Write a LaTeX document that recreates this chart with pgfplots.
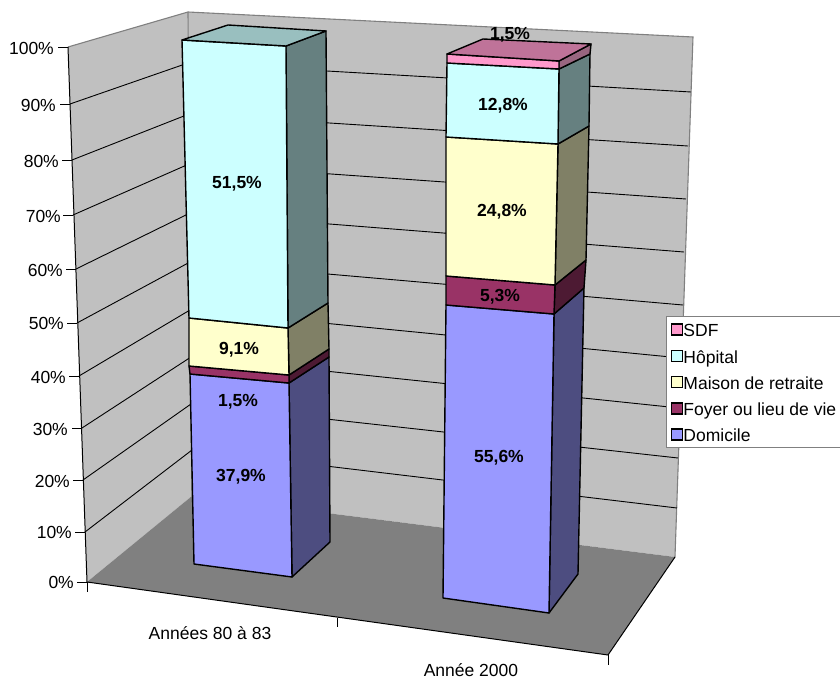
\documentclass[border=0pt]{standalone}
\usepackage{pgfplots}
\pgfplotsset{compat=1.18}
\usepackage{fontspec}
\setmainfont{Liberation Sans}
\definecolor{wall}{HTML}{C0C0C0}
\definecolor{floorc}{HTML}{808080}
\definecolor{blueF}{HTML}{9999FF}\definecolor{blueS}{HTML}{4D4D80}
\definecolor{marF}{HTML}{993366}\definecolor{marS}{HTML}{4D1A33}
\definecolor{yelF}{HTML}{FFFFCC}\definecolor{yelS}{HTML}{808066}
\definecolor{cyaF}{HTML}{CCFFFF}\definecolor{cyaS}{HTML}{668080}\definecolor{cyaT}{HTML}{99BFBF}
\definecolor{pinF}{HTML}{FF99CC}\definecolor{pinS}{HTML}{996680}\definecolor{pinT}{HTML}{BF7399}
\newcommand{\fs}{\fontsize{17.5bp}{20bp}\selectfont}
\newcommand{\poly}[2]{\addplot[fill=#1,draw=black,line width=1.4bp,line join=round,forget plot] coordinates {#2} -- cycle;}
\newcommand{\gl}[1]{\addplot[black,line width=0.9bp,forget plot] coordinates {#1};}
\newcommand{\val}[2]{\node[font=\fs\bfseries,inner sep=0pt] at (axis cs:#1) {#2};}
\begin{document}
\begin{tikzpicture}
\useasboundingbox (0,0) rectangle (840bp,679bp);
\begin{axis}[
  at={(0,0)},anchor=south west,
  width=840bp,height=679bp,scale only axis,
  xmin=0,xmax=840,ymin=0,ymax=679,y dir=reverse,
  hide axis,
  legend image code/.code={\draw[#1,line width=1.4bp] (0bp,-5.5bp) rectangle (11bp,5.5bp);},
  legend cell align=left,
  legend style={at={(axis cs:666,316)},anchor=north west,draw=floorc,line width=1.1bp,fill=white,
    font=\fs,inner xsep=4.5bp,inner ysep=4bp,row sep=8.25bp,
    nodes={inner sep=0pt,text height=16.2bp,text depth=1.8bp},
    /tikz/every even column/.append style={column sep=8.5bp}},
]
% walls and floor
\addplot[fill=wall,draw=none,forget plot] coordinates {(68,47)(188,12)(192,496)(87,582)} -- cycle;
\addplot[fill=wall,draw=none,forget plot] coordinates {(188,12)(693,37)(675,557)(192,496)} -- cycle;
\addplot[fill=floorc,draw=none,forget plot] coordinates {(87,582)(192,496)(675,557)(608,655)} -- cycle;
\addplot[floorc,line width=1.1bp,forget plot] coordinates {(68,47)(188,12)(693,37)(675,557)};
\addplot[floorc,line width=1.1bp,forget plot] coordinates {(188,12)(192,496)};
% gridlines: left wall then back wall
\gl{(70,104)(188,63)(691,92)}
\gl{(72,160)(189,114)(688,146)}
\gl{(73,215)(189,164)(686,199)}
\gl{(76,269)(190,213)(684,252)}
\gl{(77,323)(190,262)(683,305)}
\gl{(79,376)(190,310)(681,358)}
\gl{(82,428)(191,357)(679,408)}
\gl{(83,480)(191,404)(678,458)}
\gl{(85,532)(192,450)(677,508)}
% axis lines and ticks
\addplot[black,line width=1bp,forget plot] coordinates {(68,47)(87,582)};
\addplot[black,line width=1bp,forget plot] coordinates {(87,582)(608,655)(675,557)};
\gl{(58,47)(68,47)}\gl{(60,104)(70,104)}\gl{(62,160)(72,160)}\gl{(63,215)(73,215)}\gl{(66,269)(76,269)}
\gl{(67,323)(77,323)}\gl{(69,376)(79,376)}\gl{(72,428)(82,428)}\gl{(73,480)(83,480)}\gl{(75,532)(85,532)}\gl{(77,582)(87,582)}
\gl{(87,582)(87,592)}\gl{(337,618)(337,627)}\gl{(608,655)(608,665)}
% bar 1
\poly{blueS}{(292,577)(330,542)(329,357)(289,383)}
\poly{blueF}{(194,564)(292,577)(289,383)(190,374)}
\poly{marS}{(289,383)(329,357)(329,349)(289,375)}
\poly{marF}{(190,374)(289,383)(289,375)(189,366)}
\poly{yelS}{(289,375)(329,349)(328,303)(288,328)}
\poly{yelF}{(189,366)(289,375)(288,328)(189,318)}
\poly{cyaS}{(288,328)(328,303)(326,31)(286,46)}
\poly{cyaF}{(189,318)(288,328)(286,46)(182,40)}
\poly{cyaT}{(182,40)(286,46)(326,31)(228,25)}
% bar 2
\poly{blueS}{(549,613)(578,574)(584,288)(554,314)}
\poly{blueF}{(443,598)(549,613)(554,314)(446,305)}
\poly{marS}{(554,314)(584,288)(586,260)(555,285)}
\poly{marF}{(446,305)(554,314)(555,285)(446,276)}
\poly{yelS}{(555,285)(586,260)(589,126)(558,144)}
\poly{yelF}{(446,276)(555,285)(558,144)(446,137)}
\poly{cyaS}{(558,144)(589,126)(590,54)(559,69)}
\poly{cyaF}{(446,137)(558,144)(559,69)(447,63)}
\poly{pinS}{(559,69)(590,54)(591,44)(559,61)}
\poly{pinF}{(447,63)(559,69)(559,61)(447,54)}
\poly{pinT}{(447,54)(559,61)(591,44)(483,39)}
% value labels
\val{237,184}{51,5\%}\val{239,350}{9,1\%}\val{238,402}{1,5\%}\val{241,477}{37,9\%}
\val{510,35}{1,5\%}\val{503,106}{12,8\%}\val{502,212}{24,8\%}\val{500,297}{5,3\%}\val{499,458}{55,6\%}
% axis labels
\node[anchor=east,font=\fs,inner sep=0pt] at (axis cs:54,48.5) {100\%};
\node[anchor=east,font=\fs,inner sep=0pt] at (axis cs:56,105.5) {90\%};
\node[anchor=east,font=\fs,inner sep=0pt] at (axis cs:59,161.5) {80\%};
\node[anchor=east,font=\fs,inner sep=0pt] at (axis cs:61,216.5) {70\%};
\node[anchor=east,font=\fs,inner sep=0pt] at (axis cs:63,270.5) {60\%};
\node[anchor=east,font=\fs,inner sep=0pt] at (axis cs:64,323.5) {50\%};
\node[anchor=east,font=\fs,inner sep=0pt] at (axis cs:66,377.5) {40\%};
\node[anchor=east,font=\fs,inner sep=0pt] at (axis cs:68,429.5) {30\%};
\node[anchor=east,font=\fs,inner sep=0pt] at (axis cs:70,481.5) {20\%};
\node[anchor=east,font=\fs,inner sep=0pt] at (axis cs:72,532.5) {10\%};
\node[anchor=east,font=\fs,inner sep=0pt] at (axis cs:74,582.5) {0\%};
\node[font=\fs,inner sep=0pt] at (axis cs:210,633) {Années 80 à 83};
\node[font=\fs,inner sep=0pt] at (axis cs:471,670) {Année 2000};
% legend
\addlegendimage{fill=pinF,draw=black}\addlegendentry{SDF}
\addlegendimage{fill=cyaF,draw=black}\addlegendentry{Hôpital}
\addlegendimage{fill=yelF,draw=black}\addlegendentry{Maison de retraite}
\addlegendimage{fill=marF,draw=black}\addlegendentry{Foyer ou lieu de vie}
\addlegendimage{fill=blueF,draw=black}\addlegendentry{Domicile}
\end{axis}
\end{tikzpicture}
\end{document}
